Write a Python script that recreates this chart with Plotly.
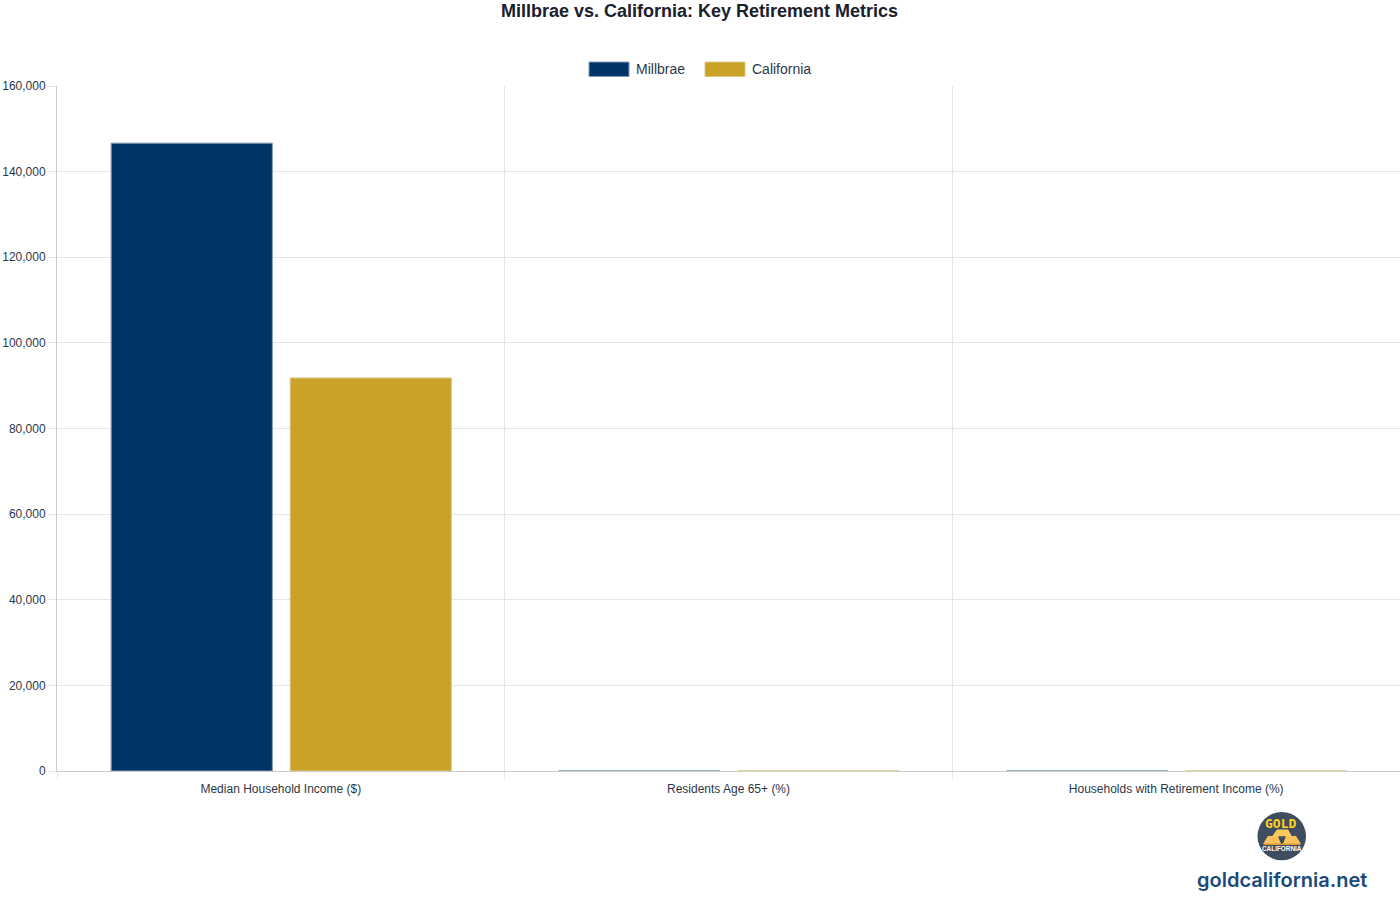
import plotly.graph_objects as go

categories = ["Median Household Income ($)", "Residents Age 65+ (%)", "Households with Retirement Income (%)"]
millbrae = [146650, 21.0, 22.0]
california = [91800, 15.8, 17.5]
y_ticks = [0, 20000, 40000, 60000, 80000, 100000, 120000, 140000, 160000]

W, H = 1400, 917
L, R, T, B = 57, 1400, 85.5, 771.5
INK = "#2d3748"
FONT = "Liberation Sans, Arial, sans-serif"

def px(x):
    return (x - L) / (R - L)

def py(y):
    return (B - y) / (B - T)

def poly(points, color):
    path = "M " + " L ".join(f"{px(x)},{py(y)}" for x, y in points) + " Z"
    return dict(type="path", xref="paper", yref="paper", path=path, fillcolor=color, line_width=0, layer="above")

def box(x0, y0, x1, y1, fill, line):
    return dict(type="rect", xref="paper", yref="paper", x0=px(x0), x1=px(x1), y0=py(y0), y1=py(y1),
                fillcolor=fill, line=dict(color=line, width=1), layer="above")

def label(x, y, text, size, color, anchor="center", family=FONT, weight="normal"):
    return dict(xref="paper", yref="paper", x=px(x), y=py(y), text=text, showarrow=False, xanchor=anchor,
                yanchor="middle", font=dict(size=size, color=color, family=family, weight=weight))

fig = go.Figure()
fig.add_bar(name="Millbrae", x=categories, y=millbrae, width=0.36, offset=-0.379,
            marker=dict(color="#003366", line=dict(color="#7f9ab3", width=1)))
fig.add_bar(name="California", x=categories, y=california, width=0.36, offset=0.0209,
            marker=dict(color="#c9a227", line=dict(color="#dcc882", width=1)))

shapes = [
    box(589, 61.5, 629, 76, "#003366", "#7f9ab3"),
    box(705, 61.5, 745, 76, "#c9a227", "#dcc882"),
    dict(type="circle", xref="paper", yref="paper", x0=px(1257.5), x1=px(1306), y0=py(812.5), y1=py(861),
         fillcolor="#3f4d60", line_width=0, layer="above"),
    poly([(1268, 836.5), (1278, 836.5), (1281, 844.5), (1263, 844.5)], "#fbc25a"),
    poly([(1286, 836.5), (1296, 836.5), (1301, 844.5), (1283, 844.5)], "#fbc25a"),
    poly([(1277, 830), (1288, 830), (1292, 837), (1272, 837)], "#fcc95e"),
    poly([(1263, 844), (1301, 844), (1300, 845.5), (1264, 845.5)], "#d99a36"),
    poly([(1278.5, 837), (1285.5, 837), (1282, 841)], "#3f4d60"),
]
annotations = [
    label(699.5, 10, "Millbrae vs. California: Key Retirement Metrics", 18, "#1a202c", weight="bold"),
    label(634, 68, "Millbrae", 14, INK, "left"),
    label(749.5, 68, "California", 14, INK, "left"),
    label(1280.5, 824, "GOLD", 13, "#ffd21f", family="DejaVu Sans Mono, monospace", weight="bold"),
    label(1282, 849, "CALIFORNIA", 6.4, "#ffffff", weight="bold"),
    label(1281.5, 881, "goldcalifornia.net", 20, "#1a4a7a", family="Inter, sans-serif", weight=600),
]

fig.update_layout(
    width=W, height=H,
    margin=dict(l=L, r=W - R, t=T, b=H - B, pad=0),
    paper_bgcolor="#ffffff", plot_bgcolor="#ffffff",
    font=dict(family=FONT, size=12, color=INK),
    barmode="overlay",
    showlegend=False, hovermode=False,
    shapes=shapes, annotations=annotations,
    xaxis=dict(type="category", tickson="boundaries", ticks="outside", ticklen=7, tickcolor="#e5e5e5",
               ticklabelstandoff=7, range=[-0.5, 2.5],
               showgrid=True, gridcolor="#e5e5e5", gridwidth=1, showline=True, linecolor="#cccccc", linewidth=1,
               zeroline=False, tickfont=dict(size=12, color=INK), automargin=False),
    yaxis=dict(range=[0, 160000], tickvals=y_ticks, tickformat=",d", ticks="outside", ticklen=8, tickcolor="#e5e5e5",
               showgrid=True, gridcolor="#e5e5e5", gridwidth=1, showline=True, linecolor="#cccccc", linewidth=1,
               zeroline=False, tickfont=dict(size=12, color=INK), automargin=False),
)
fig.write_html("out.html", config={"displayModeBar": False},
               post_script="document.body.style.margin='0';document.documentElement.style.overflow='hidden';")
